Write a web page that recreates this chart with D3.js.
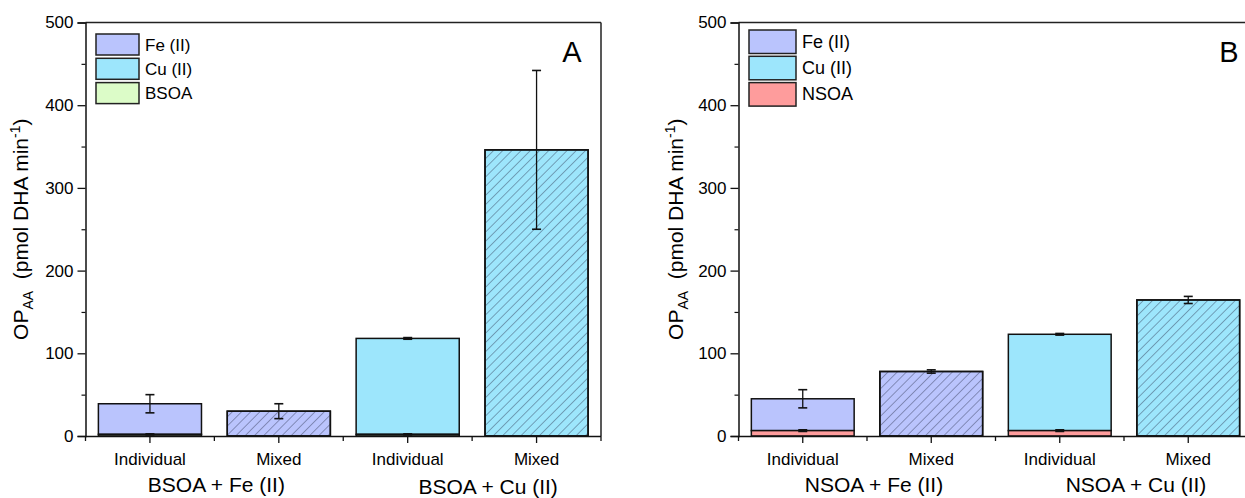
<!DOCTYPE html>
<html><head><meta charset="utf-8">
<script src="https://cdn.jsdelivr.net/npm/d3@7"></script>
<style>
body{margin:0;background:#fff;}
svg text{font-family:"Liberation Sans",Arial,sans-serif;fill:#000;}
</style></head>
<body><svg id="c" width="1245" height="498"></svg>
<script>
// ---- data ----
const categories = ["Individual", "Mixed", "Individual", "Mixed"];
const metalType = ["Fe", "Fe", "Cu", "Cu"];
const mixedFlag = [false, true, false, true];
const yTicks = [0, 100, 200, 300, 400, 500];
const yMinorTicks = [50, 150, 250, 350, 450];

// Panel A (BSOA)
const groupLabelsA = ["BSOA + Fe (II)", "BSOA + Cu (II)"];
const legendA = ["Fe (II)", "Cu (II)", "BSOA"];
const soaA = [2, 0, 2, 0];
const soaErrA = [0.6, 0, 0.6, 0];
const metalA = [37, 30, 116, 346];
const totalErrA = [11, 9, 1, 96];

// Panel B (NSOA)
const groupLabelsB = ["NSOA + Fe (II)", "NSOA + Cu (II)"];
const legendB = ["Fe (II)", "Cu (II)", "NSOA"];
const soaB = [6.5, 0, 6.5, 0];
const soaErrB = [1, 0, 1, 0];
const metalB = [38.5, 78, 116.5, 164.5];
const totalErrB = [11, 2, 1, 4.3];

// ---- styles ----
const colors = {Fe: "#bac4fd", Cu: "#9de6fc", BSOA: "#dcfcc8", NSOA: "#fe9c9c"};

const svg = d3.select("#c");
const defs = svg.append("defs");
const pat = defs.append("pattern").attr("id", "hatch").attr("patternUnits", "userSpaceOnUse")
  .attr("width", 6.5).attr("height", 6.5).attr("patternTransform", "rotate(45)");
pat.append("line").attr("x1", 0).attr("y1", 0).attr("x2", 0).attr("y2", 6.5)
  .attr("stroke", "#2d3550").attr("stroke-width", 0.8);

function drawPanel(o) {
  const g = svg.append("g");
  const x = d3.scaleBand().domain(d3.range(categories.length)).range([o.left, o.right]).paddingInner(0.2).paddingOuter(0.1);
  const y = d3.scaleLinear().domain([0, 500]).range([436, 22.5]);
  const step = x.step();
  const x0 = o.left;

  g.append("line").attr("x1", x0).attr("x2", o.frameRight).attr("y1", y(500)).attr("y2", y(500)).attr("stroke", "#222").attr("stroke-width", 1.5);
  g.append("line").attr("x1", o.frameRight).attr("x2", o.frameRight).attr("y1", y(500)).attr("y2", y(0)).attr("stroke", "#222").attr("stroke-width", 1.5);

  categories.forEach((c, i) => {
    const bx = x(i), bw = x.bandwidth();
    const total = o.soa[i] + o.metal[i];
    g.append("rect").attr("x", bx).attr("y", y(total)).attr("width", bw).attr("height", y(o.soa[i]) - y(total))
      .attr("fill", colors[metalType[i]]).attr("stroke", "#111").attr("stroke-width", 1.5);
    if (mixedFlag[i]) {
      g.append("rect").attr("x", bx).attr("y", y(total)).attr("width", bw).attr("height", y(o.soa[i]) - y(total))
        .attr("fill", "url(#hatch)").attr("stroke", "#111").attr("stroke-width", 1.5);
    }
    if (o.soa[i] > 0) {
      g.append("rect").attr("x", bx).attr("y", y(o.soa[i])).attr("width", bw).attr("height", y(0) - y(o.soa[i]))
        .attr("fill", colors[o.soaName]).attr("stroke", "#111").attr("stroke-width", 1.5);
    }
    const cx = bx + bw / 2;
    const eb = (v, e) => {
      g.append("line").attr("x1", cx).attr("x2", cx).attr("y1", y(v + e)).attr("y2", y(v - e)).attr("stroke", "#111").attr("stroke-width", 1.3);
      [v + e, v - e].forEach(t => g.append("line").attr("x1", cx - 4.5).attr("x2", cx + 4.5).attr("y1", y(t)).attr("y2", y(t)).attr("stroke", "#111").attr("stroke-width", 1.6));
    };
    eb(total, o.err[i]);
    if (o.soa[i] > 0) eb(o.soa[i], o.soaErr[i]);
  });

  const yAxis = g.append("g").attr("transform", `translate(${x0},0)`)
    .call(d3.axisLeft(y).tickValues(yTicks).tickSize(8).tickPadding(4));
  yAxis.select(".domain").attr("stroke", "#111").attr("stroke-width", 1.5);
  yAxis.selectAll(".tick line").attr("stroke", "#111").attr("stroke-width", 1.3);
  yAxis.selectAll(".tick text").style("font-size", "17px").style("font-family", "Liberation Sans, Arial, sans-serif");
  g.append("g").attr("transform", `translate(${x0},0)`)
    .call(d3.axisLeft(y).tickValues(yMinorTicks).tickSize(4).tickFormat(""))
    .call(s => { s.select(".domain").remove(); s.selectAll("line").attr("stroke", "#111").attr("stroke-width", 1.2); });

  const xAxis = g.append("g").attr("transform", `translate(0,${y(0)})`)
    .call(d3.axisBottom(x).tickFormat(i => categories[i]).tickSize(7).tickPadding(10));
  xAxis.select(".domain").attr("d", `M${x0},0.5H${o.frameRight}`).attr("stroke", "#111").attr("stroke-width", 1.5);
  xAxis.selectAll(".tick line").attr("stroke", "#111").attr("stroke-width", 1.3);
  xAxis.selectAll(".tick text").style("font-size", "17px").style("font-family", "Liberation Sans, Arial, sans-serif");
  d3.range(categories.length + 1).forEach(k => {
    const bxk = x0 + k * step;
    if (bxk <= 1245) g.append("line").attr("x1", bxk).attr("x2", bxk).attr("y1", y(0)).attr("y2", y(0) + 5).attr("stroke", "#111").attr("stroke-width", 1.3);
  });

  o.groupLabels.forEach((t, k) => {
    const cxg = x0 + (2 * k + 1) * step + o.groupDx[k];
    g.append("text").attr("x", cxg).attr("y", o.groupY[k]).attr("text-anchor", "middle").style("font-size", "21px").text(t);
  });

  const tt = g.append("text").attr("transform", `translate(${o.titleX},${(y(0) + y(500)) / 2}) rotate(-90)`)
    .attr("text-anchor", "middle").style("font-size", "21px");
  tt.append("tspan").text("OP");
  tt.append("tspan").attr("dy", 5).style("font-size", "14px").text("AA");
  tt.append("tspan").attr("dy", -5).text("\u00a0 (pmol DHA min");
  tt.append("tspan").attr("dy", -8).style("font-size", "14px").text("-1");
  tt.append("tspan").attr("dy", 8).text(")");

  g.append("text").attr("x", o.letterX).attr("y", 62).attr("text-anchor", "middle").style("font-size", "29px").text(o.letter);

  const lg = o.legend;
  const names = [["Fe", o.legendNames[0]], ["Cu", o.legendNames[1]], [o.soaName, o.legendNames[2]]];
  names.forEach((n, k) => {
    const ly = lg.y + k * lg.pitch;
    g.append("rect").attr("x", lg.x).attr("y", ly).attr("width", lg.w).attr("height", lg.h)
      .attr("fill", colors[n[0]]).attr("stroke", "#222").attr("stroke-width", 1.5);
    g.append("text").attr("x", lg.x + lg.w + 6).attr("y", ly + lg.h / 2 + 6).style("font-size", lg.fs + "px").text(n[1]);
  });
}

drawPanel({left: 85.5, right: 601, frameRight: 601, soa: soaA, soaErr: soaErrA, metal: metalA, err: totalErrA,
  soaName: "BSOA", legendNames: legendA, groupLabels: groupLabelsA, groupDx: [2, 16], groupY: [492, 494], titleX: 28, letter: "A", letterX: 572,
  legend: {x: 96, y: 34, w: 43, h: 21, pitch: 24.3, fs: 17}});
drawPanel({left: 738.5, right: 1252.5, frameRight: 1252.5, soa: soaB, soaErr: soaErrB, metal: metalB, err: totalErrB,
  soaName: "NSOA", legendNames: legendB, groupLabels: groupLabelsB, groupDx: [7, 12], groupY: [492, 492], titleX: 683, letter: "B", letterX: 1229,
  legend: {x: 749, y: 30, w: 47, h: 23.5, pitch: 26.3, fs: 18}});
</script></body></html>
